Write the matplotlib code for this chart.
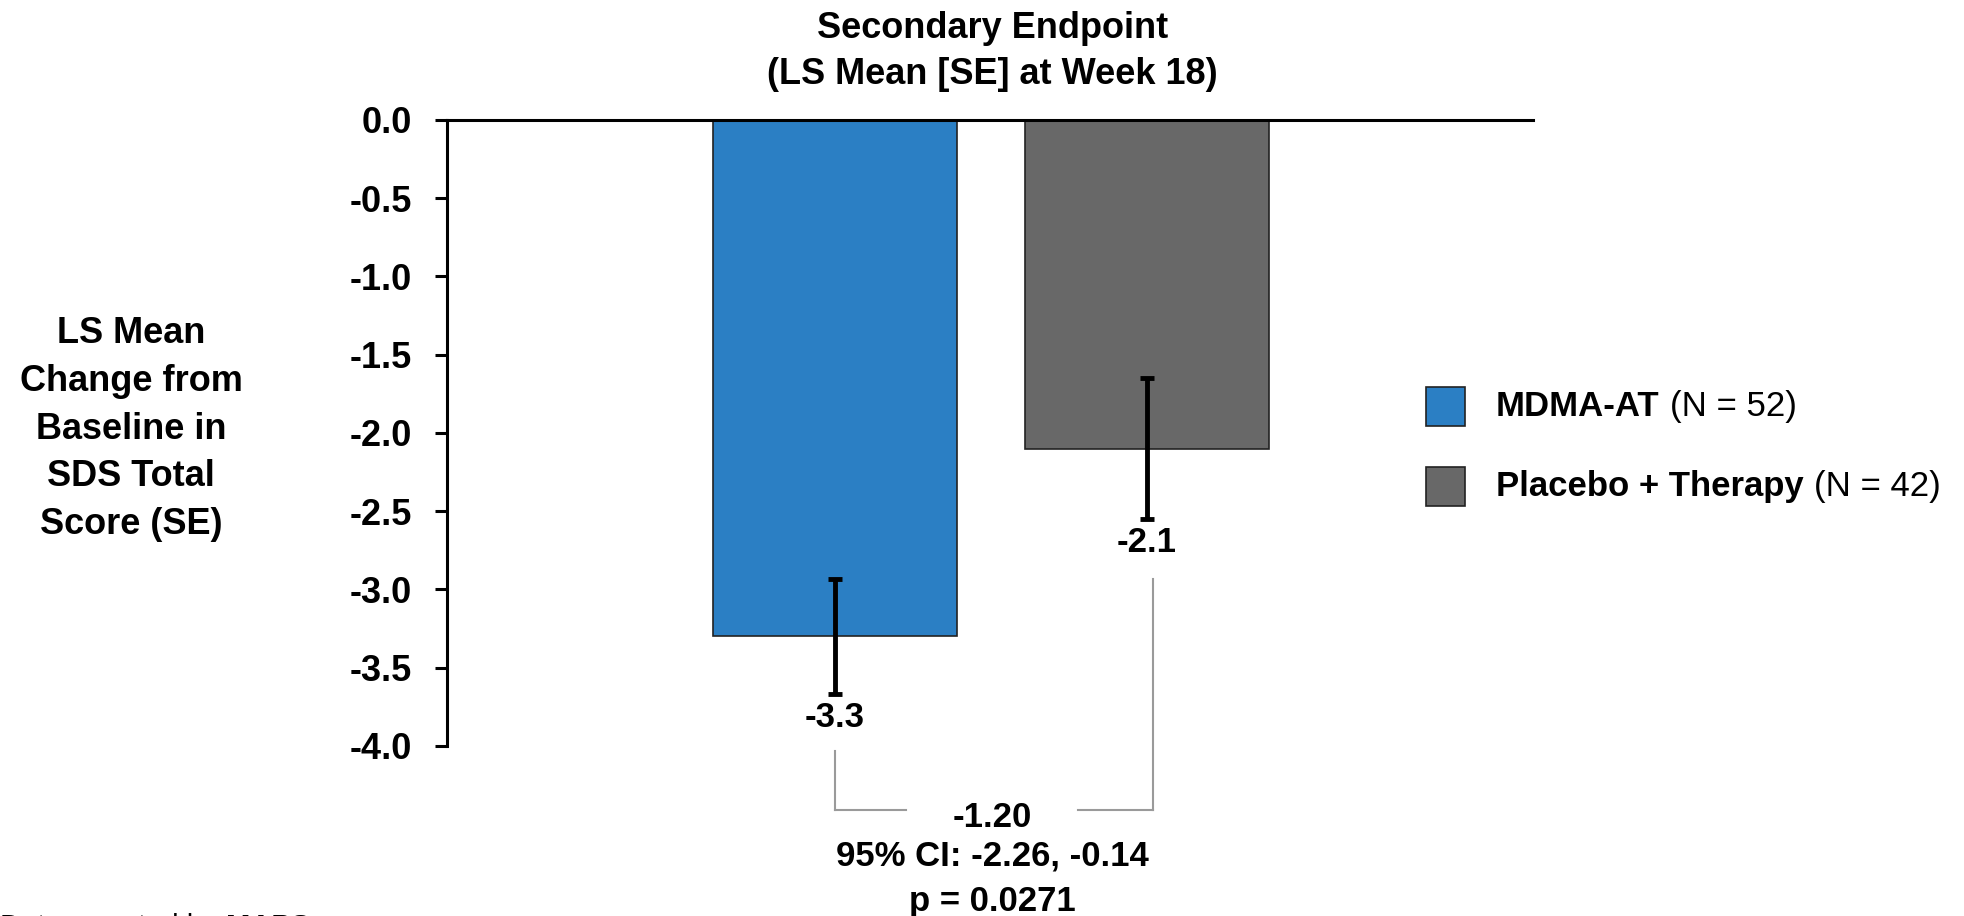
import matplotlib
matplotlib.use("Agg")
import matplotlib.pyplot as plt
from matplotlib.patches import Rectangle

plt.rcParams['font.family'] = ['Liberation Sans', 'DejaVu Sans']

# Data
groups = ["MDMA-AT", "Placebo + Therapy"]
group_n = [52, 42]
ls_means = [-3.3, -2.1]
std_errors = [0.37, 0.45]
bar_colors = ["#2B7FC4", "#686868"]
yticks = [0.0, -0.5, -1.0, -1.5, -2.0, -2.5, -3.0, -3.5, -4.0]
diff_text = ["-1.20", "95% CI: -2.26, -0.14", "p = 0.0271"]

fig = plt.figure(figsize=(19.65, 9.16), dpi=100)
ax = fig.add_axes([0.2275, 0.1856, 0.5527, 0.6834])

x = [0, 1]
ax.bar(x, ls_means, width=0.783, color=bar_colors, edgecolor="#222222",
       linewidth=1.2, zorder=2)
ax.errorbar(x, ls_means, yerr=std_errors, fmt="none", ecolor="black",
            elinewidth=3.5, capsize=5, capthick=3.5, zorder=3)

for xi, m, se in zip(x, ls_means, std_errors):
    ax.text(xi, m - se - 0.15, f"{m:.1f}", ha="center", va="center",
            fontsize=25, fontweight="bold")

ax.set_xlim(-1.244, 2.240)
ax.set_ylim(-4.0, 0.0)
ax.set_yticks(yticks)
ax.set_yticklabels([f"{t:.1f}" for t in yticks], fontsize=26, fontweight="bold")
ax.set_xticks([])
ax.tick_params(axis="y", length=9, width=2.2, pad=16, direction="out")
for side in ("right", "bottom"):
    ax.spines[side].set_visible(False)
ax.spines["left"].set_linewidth(2.2)
ax.spines["top"].set_linewidth(2.2)

# Comparison bracket between the two groups
bracket_y = -4.41
gcol = "#9a9a9a"
ax.plot([0, 0], [-4.03, bracket_y], color=gcol, lw=1.5, clip_on=False)
ax.plot([0, 0.229], [bracket_y, bracket_y], color=gcol, lw=1.5, clip_on=False)
ax.plot([1.02, 1.02], [-2.93, bracket_y], color=gcol, lw=1.5, clip_on=False)
ax.plot([0.780, 1.02], [bracket_y, bracket_y], color=gcol, lw=1.5, clip_on=False)

for ty, t in zip([0.107, 0.0652, 0.0158], diff_text):
    fig.text(0.505, ty, t, ha="center", va="center", fontsize=25,
             fontweight="bold")

fig.text(0.505, 0.944, "Secondary Endpoint\n(LS Mean [SE] at Week 18)",
         ha="center", va="center", fontsize=26, fontweight="bold",
         linespacing=1.42)

fig.text(0.0667, 0.5315,
         "LS Mean\nChange from\nBaseline in\nSDS Total\nScore (SE)",
         ha="center", va="center", fontsize=26, fontweight="bold",
         linespacing=1.47)

# Legend
renderer = fig.canvas.get_renderer()
W, H = fig.get_size_inches() * fig.dpi
sq_tops = [387, 467]
for name, n, col, top in zip(groups, group_n, bar_colors, sq_tops):
    fig.patches.append(Rectangle((1426 / W, 1 - (top + 39) / H), 39 / W, 39 / H,
                                 transform=fig.transFigure, facecolor=col,
                                 edgecolor="#222222", linewidth=1.2))
    cy = 1 - (top + 19.5) / H
    t1 = fig.text(1496 / W, cy, name, ha="left", va="center", fontsize=25,
                  fontweight="bold")
    bb = t1.get_window_extent(renderer)
    fig.text((bb.x1 + 10) / W, cy, f"(N = {n})", ha="left", va="center",
             fontsize=25)

# Source note at the lower edge
s1 = fig.text(0.0, 0.003, "Data reported by ", ha="left", va="top",
              fontsize=21)
bb = s1.get_window_extent(renderer)
fig.text(bb.x1 / W, 0.003, "MAPS", ha="left", va="top", fontsize=21,
         fontweight="bold")

fig.savefig("out.png", dpi=100, facecolor="white")
